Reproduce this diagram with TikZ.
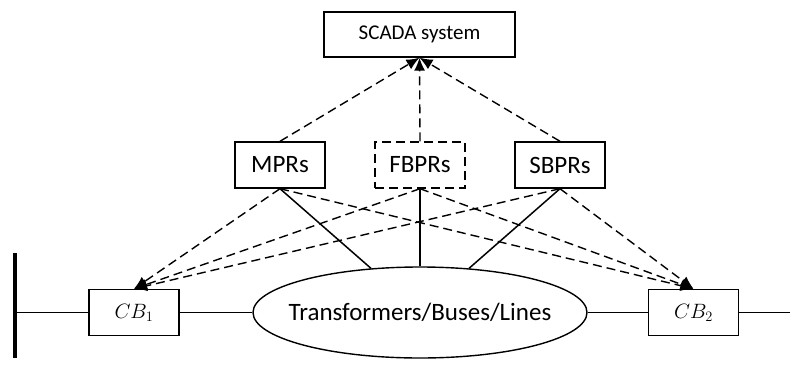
\documentclass[tikz,border=0pt]{standalone}
\usepackage{fontspec}
\setmainfont{Carlito}
\usetikzlibrary{arrows.meta,shapes.geometric}
\begin{document}
\begin{tikzpicture}[x=1pt,y=-1pt,
  box/.style={draw,line width=1.4pt,rectangle,inner sep=0pt,minimum width=90pt,minimum height=46pt,font=\fontsize{25}{30}\selectfont},
  cbbox/.style={draw,line width=1.4pt,rectangle,inner sep=0pt,minimum width=90pt,minimum height=46pt,font=\fontsize{20}{24}\selectfont},
  dashline/.style={line width=1.4pt,dash pattern=on 9pt off 5pt},
  arr/.style={dashline,-{Latex[length=13pt,width=11pt]}},
  wire/.style={line width=1.5pt}]
\useasboundingbox (0,0) rectangle (790,367);
\node[box,minimum width=191pt,minimum height=45pt,font=\fontsize{21}{25}\selectfont] (scada) at (419.5,34.5) {SCADA system};
\node[box] (mpr) at (280,165) {MPRs};
\node[box,dashline] (fbpr) at (420,165) {FBPRs};
\node[box] (sbpr) at (560,165) {SBPRs};
\node[draw,ellipse,line width=1.4pt,inner sep=0pt,minimum width=334pt,minimum height=91pt,font=\fontsize{25}{30}\selectfont] (ell) at (420,312.5) {\makebox[0pt]{Transformers/Buses/Lines}};
\node[cbbox] (cb1) at (134,312.5) {$CB_1$};
\node[cbbox] (cb2) at (693.5,312.5) {$CB_2$};
\coordinate (bt) at (15,253);
\coordinate (bb) at (15,358);
\coordinate (bm) at (15,312.5);
\coordinate (rend) at (790,312.5);
\draw[line width=4pt] (bt) -- (bb);
\draw[wire] (bm) -- (cb1.west);
\draw[wire] (cb1.east) -- (ell.west);
\draw[wire] (ell.east) -- (cb2.west);
\draw[wire] (cb2.east) -- (rend);
\draw[wire] (mpr.south) -- (ell.138);
\draw[wire] (fbpr.south) -- (ell.north);
\draw[wire] (sbpr.south) -- (ell.42);
\draw[arr] (mpr.north) -- (scada.south);
\draw[arr] (fbpr.north) -- (scada.south);
\draw[arr] (sbpr.north) -- (scada.south);
\foreach \s in {mpr,fbpr,sbpr}{
  \draw[arr] (\s.south) -- (cb1.north);
  \draw[arr] (\s.south) -- (cb2.north);
}
\end{tikzpicture}
\end{document}
